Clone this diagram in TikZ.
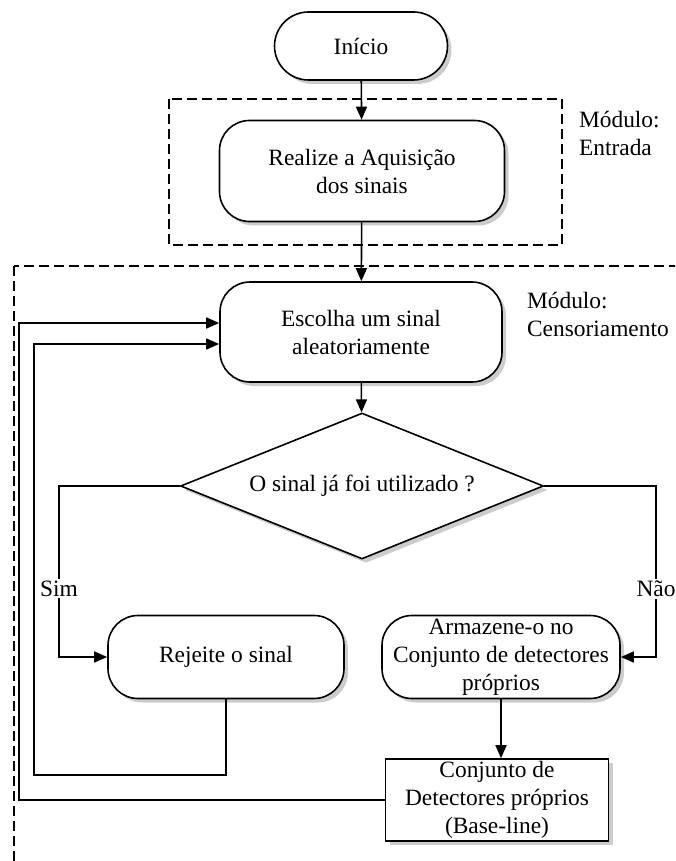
\documentclass[tikz,border=0pt]{standalone}
\usepackage{fontspec}
\setmainfont{Liberation Serif}
\usetikzlibrary{arrows.meta,shapes.geometric,shadows}
\begin{document}
\begin{tikzpicture}[x=0.5pt,y=-0.5pt,
  every node/.style={font=\fontsize{11.7}{14}\selectfont},
  shade/.style={drop shadow={shadow xshift=2pt,shadow yshift=-2pt,fill=black!40,opacity=0.5}},
  termbox/.style={draw,line width=0.8pt,fill=white,shade,align=center,inner sep=0pt,rounded corners=#1},
  termbox/.default=15pt,
  procbox/.style={draw,line width=0.8pt,fill=white,shade,align=center,inner sep=0pt},
  decbox/.style={draw,diamond,line width=0.8pt,fill=white,shade,inner sep=0pt,aspect=2.5},
  modbox/.style={draw,dashed,dash pattern=on 5pt off 2.5pt,line width=0.8pt},
  modlabel/.style={anchor=west,align=left},
  arrow/.style={line width=0.8pt,-{Triangle[length=6.5pt,width=5.5pt]}},
  line/.style={line width=0.8pt}]
  \useasboundingbox (0,0) rectangle (675,861);

  \draw[modbox] (169,99) rectangle (562,245);
  \begin{scope}
    \clip (0,0) rectangle (675,861);
    \draw[modbox] (14,266) rectangle (720,920);
  \end{scope}
  \node[modlabel] (modin) at (572,133) {Módulo:\\Entrada};
  \node[modlabel] (modcen) at (520,314) {Módulo:\\Censoriamento};

  \node[termbox=17pt,minimum width=86.5pt,minimum height=34pt]
  (ini) at (361,46) {Início};
  \node[termbox,minimum width=142.5pt,minimum height=50.5pt]
  (acq) at (362,171) {Realize a Aquisição\\dos sinais};
  \node[termbox,minimum width=141pt,minimum height=50pt]
  (esc) at (361,332) {Escolha um sinal\\aleatoriamente};
  \node[decbox,minimum width=181.5pt,minimum height=73pt]
  (dec) at (362,486) {O sinal já foi utilizado ?};
  \node[termbox,minimum width=118pt,minimum height=41.5pt]
  (rej) at (226,657) {Rejeite o sinal};
  \node[termbox,minimum width=119pt,minimum height=41.5pt]
  (arm) at (501,657) {Armazene-o no\\Conjunto de detectores\\próprios};
  \node[procbox,minimum width=111.5pt,minimum height=41pt]
  (conj) at (497,800) {Conjunto de\\Detectores próprios\\(Base-line)};

  \coordinate (simx) at (59,486);
  \coordinate (naox) at (656,486);
  \coordinate (rejy) at (34,775);
  \coordinate (conjx) at (19,800);

  \draw[arrow] (ini) -- (acq);
  \draw[arrow] (acq) -- (esc);
  \draw[arrow] (esc) -- (dec);
  \draw[arrow] (dec.west) -- (simx) |- node[pos=0.3,fill=white,inner sep=1pt] (sim) {Sim} (rej.west);
  \draw[arrow] (dec.east) -- (naox) |- node[pos=0.3,fill=white,inner sep=1pt] (nao) {Não} (arm.east);
  \draw[arrow] (arm.south) -- (arm.south |- conj.north);
  \draw[arrow] (rej.south) |- (rejy) |- ([yshift=-6pt]esc.west);
  \draw[arrow] (conj.west) -- (conjx) |- ([yshift=4.5pt]esc.west);
\end{tikzpicture}
\end{document}
